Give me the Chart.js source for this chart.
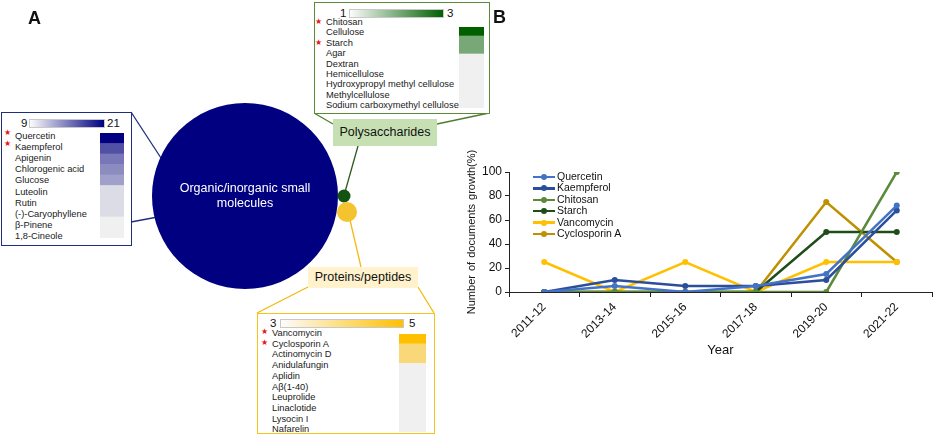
<!DOCTYPE html>
<html>
<head>
<meta charset="utf-8">
<script src="https://cdn.jsdelivr.net/npm/chart.js@4.4.0/dist/chart.umd.min.js"></script>
<style>
  body { margin: 0; width: 936px; height: 436px; position: relative; overflow: hidden; background: #fff;
         font-family: Arial, "Liberation Sans", sans-serif; color: #111; }
  .abs { position: absolute; }
  .panel { position: absolute; font-weight: bold; font-size: 18px; line-height: 18px; z-index: 5; }
  .box { position: absolute; background: #fff; box-sizing: border-box; }
  .lbl { position: absolute; font-size: 9.3px; line-height: 10px; white-space: nowrap; color: #1a1a1a; }
  .star { position: absolute; color: #e8151b; font-size: 8px; line-height: 8px; }
  .bar { position: absolute; box-sizing: border-box; border: 1px solid #c8c8c8; }
  .num { position: absolute; font-size: 11.5px; line-height: 12px; }
  .tag { position: absolute; box-sizing: border-box; font-size: 12.5px; text-align: center; }
  .leg { position: absolute; font-size: 10.5px; line-height: 11px; white-space: nowrap; }
  .ytitle { position: absolute; left: 371px; top: 226px; width: 200px; text-align: center; font-size: 11px;
            line-height: 12px; word-spacing: 1px; transform: rotate(-90deg); transform-origin: 100px 6px; white-space: nowrap; }
  canvas { position: absolute; }
</style>
</head>
<body>

<div class="panel" style="left:28px;top:9px;">A</div>
<div class="panel" style="left:493px;top:8px;">B</div>

<!-- connector lines of panel A -->
<svg class="abs" style="left:0;top:0;" width="936" height="436">
  <g stroke-width="1.3" fill="none">
    <line x1="131" y1="112" x2="161" y2="158" stroke="#1f2f7a"/>
    <line x1="131" y1="222" x2="163" y2="216" stroke="#1f2f7a"/>
    <line x1="314" y1="113" x2="333" y2="124" stroke="#4f7d2e"/>
    <line x1="437" y1="124" x2="489" y2="113" stroke="#4f7d2e"/>
    <line x1="358" y1="146" x2="345" y2="192" stroke="#2f5a1f"/>
    <line x1="350" y1="220" x2="361" y2="267" stroke="#f2b90f"/>
    <line x1="308" y1="287" x2="257" y2="313" stroke="#f2b90f"/>
    <line x1="418" y1="287" x2="434" y2="313" stroke="#f2b90f"/>
  </g>
</svg>

<canvas id="bubbles" width="460" height="436" style="left:0;top:0;"></canvas>
<div class="abs" style="left:152px;top:181px;width:186px;text-align:center;color:#fff;font-size:12.5px;line-height:15px;">Organic/inorganic small<br>molecules</div>

<div class="tag" style="left:333px;top:119px;width:104px;height:27px;line-height:27px;background:#c6e0b4;">Polysaccharides</div>
<div class="tag" style="left:308px;top:267px;width:110px;height:21px;line-height:21px;background:#fff2cc;">Proteins/peptides</div>

<div id="boxes"></div>

<canvas id="myChart" width="476" height="202" style="left:460px;top:160px;"></canvas>
<div class="ytitle">Number of documents growth(%)</div>
<div id="legendB"></div>

<script>
// ---- panel A data
var smallMolecules = ['Quercetin', 'Kaempferol', 'Apigenin', 'Chlorogenic acid', 'Glucose', 'Luteolin', 'Rutin', '(-)-Caryophyllene', 'β-Pinene', '1,8-Cineole'];
var smallMoleculeCounts = [21, 17, 15, 14, 13, 10, 10, 10, 9, 9];
var smallMoleculeRange = [9, 21];

var polysaccharides = ['Chitosan', 'Cellulose', 'Starch', 'Agar', 'Dextran', 'Hemicellulose', 'Hydroxypropyl methyl cellulose', 'Methylcellulose', 'Sodium carboxymethyl cellulose'];
var polysaccharideCounts = [3, 2, 2, 1, 1, 1, 1, 1, 1];
var polysaccharideRange = [1, 3];

var peptides = ['Vancomycin', 'Cyclosporin A', 'Actinomycin D', 'Anidulafungin', 'Aplidin', 'Aβ(1-40)', 'Leuprolide', 'Linaclotide', 'Lysocin I', 'Nafarelin'];
var peptideCounts = [5, 4, 4, 3, 3, 3, 3, 3, 3, 3];
var peptideRange = [3, 5];

var starred = ['Quercetin', 'Kaempferol', 'Chitosan', 'Starch', 'Vancomycin', 'Cyclosporin A'];

// ---- panel B data
var years = ['2011-12', '2013-14', '2015-16', '2017-18', '2019-20', '2021-22'];
var quercetin = [0, 5, 0, 5, 15, 72];
var kaempferol = [0, 10, 5, 5, 10, 68];
var chitosan = [0, 0, 0, 0, 0, 100];
var starch = [0, 0, 0, 0, 50, 50];
var vancomycin = [25, 0, 25, 0, 25, 25];
var cyclosporinA = [0, 0, 0, 0, 75, 25];
var yTicks = [0, 20, 40, 60, 80, 100];

// layout of the bubbles (pixels of panel A)
var bubbleLayout = [
  {x: 245, y: 196, r: 93, color: '#000080'},
  {x: 344, y: 196, r: 6.5, color: '#145214'},
  {x: 347, y: 212, r: 10, color: '#f4c430'}
];

// layout of the three boxes
var boxLayout = [
  {names: smallMolecules, values: smallMoleculeCounts, range: smallMoleculeRange,
   low: [240, 240, 240], high: [0, 0, 128], border: '#1f2f7a',
   left: 1, top: 112, width: 131, height: 134,
   labelX: 15, rowY: 131, rowStep: 11.1, starDy: -2,
   heat: {left: 100, top: 133, width: 24, height: 105},
   bar: {left: 29, top: 119, width: 76, height: 9}, lowX: 21, highX: 107, numY: 117},
  {names: polysaccharides, values: polysaccharideCounts, range: polysaccharideRange,
   low: [240, 240, 240], high: [0, 96, 0], border: '#5a8a3a',
   left: 314, top: 2, width: 176, height: 112,
   labelX: 326, rowY: 17, rowStep: 10.4, starDy: 1,
   heat: {left: 459, top: 27, width: 25, height: 81},
   bar: {left: 349, top: 9, width: 95, height: 9}, lowX: 340, highX: 447, numY: 7},
  {names: peptides, values: peptideCounts, range: peptideRange,
   low: [240, 240, 240], high: [255, 192, 0], border: '#f7c318',
   left: 257, top: 313, width: 178, height: 121,
   labelX: 272, rowY: 328, rowStep: 10.7, starDy: 0,
   heat: {left: 399, top: 334, width: 27, height: 98},
   bar: {left: 280, top: 319, width: 124, height: 9}, lowX: 270, highX: 409, numY: 317}
];

//Funzione per il colore della cella
function cellColor (v, range, low, high) {
  var t = (v - range[0]) / (range[1] - range[0]);
  var c = [];
  for (var i = 0; i < 3; i++) {
    c.push(Math.round(low[i] + (high[i] - low[i]) * t));
  }
  return 'rgb(' + c.join(',') + ')';
}

//Funzione per creare i riquadri con la heatmap
function drawBoxes () {
  var cont = document.getElementById('boxes');
  for (var b = 0; b < boxLayout.length; b++) {
    var L = boxLayout[b];
    var box = document.createElement('div');
    box.className = 'box';
    box.style.cssText = 'left:' + L.left + 'px;top:' + L.top + 'px;width:' + L.width + 'px;height:' + L.height + 'px;border:1.5px solid ' + L.border + ';';
    cont.appendChild(box);

    var bar = document.createElement('div');
    bar.className = 'bar';
    bar.style.cssText = 'left:' + L.bar.left + 'px;top:' + L.bar.top + 'px;width:' + L.bar.width + 'px;height:' + L.bar.height + 'px;' +
      'background:linear-gradient(to right,' + cellColor(L.range[0], L.range, [252, 252, 252], L.high) + ',' + cellColor(L.range[1], L.range, L.low, L.high) + ');';
    cont.appendChild(bar);

    var n1 = document.createElement('div');
    n1.className = 'num';
    n1.style.cssText = 'left:' + L.lowX + 'px;top:' + L.numY + 'px;';
    n1.textContent = L.range[0];
    cont.appendChild(n1);
    var n2 = document.createElement('div');
    n2.className = 'num';
    n2.style.cssText = 'left:' + L.highX + 'px;top:' + L.numY + 'px;';
    n2.textContent = L.range[1];
    cont.appendChild(n2);

    for (var i = 0; i < L.names.length; i++) {
      var y = L.rowY + i * L.rowStep;
      var lb = document.createElement('div');
      lb.className = 'lbl';
      lb.style.cssText = 'left:' + L.labelX + 'px;top:' + y + 'px;';
      lb.textContent = L.names[i];
      cont.appendChild(lb);
      if (starred.indexOf(L.names[i]) >= 0) {
        var st = document.createElement('div');
        st.className = 'star';
        st.style.cssText = 'left:' + (L.labelX - 11) + 'px;top:' + (y + L.starDy) + 'px;';
        st.textContent = '★';
        cont.appendChild(st);
      }
    }

    var cv = document.createElement('canvas');
    cv.width = L.heat.width;
    cv.height = L.heat.height;
    cv.style.left = L.heat.left + 'px';
    cv.style.top = L.heat.top + 'px';
    cont.appendChild(cv);
    heatColumn(cv, L);
  }
}

//Funzione per la colonna heatmap
function heatColumn (cv, L) {
  var colors = [];
  var ones = [];
  for (var i = 0; i < L.values.length; i++) {
    colors.push(cellColor(L.values[i], L.range, L.low, L.high));
    ones.push(1);
  }
  new Chart(cv.getContext('2d'), {
    type: 'bar',
    data: {
      labels: L.names,
      datasets: [{
        data: ones,
        backgroundColor: colors,
        borderWidth: 0,
        barPercentage: 1,
        categoryPercentage: 1
      }]
    },
    options: {
      indexAxis: 'y',
      responsive: false,
      animation: false,
      events: [],
      layout: {padding: 0, autoPadding: false},
      plugins: {legend: {display: false}, tooltip: {enabled: false}},
      scales: {
        x: {display: false, min: 0, max: 1},
        y: {display: false}
      }
    }
  });
}

//Funzione per i cerchi
function bubbleChart () {
  var pts = [];
  var cols = [];
  for (var i = 0; i < bubbleLayout.length; i++) {
    pts.push({x: bubbleLayout[i].x, y: bubbleLayout[i].y, r: bubbleLayout[i].r});
    cols.push(bubbleLayout[i].color);
  }
  new Chart(document.getElementById('bubbles').getContext('2d'), {
    type: 'bubble',
    data: {datasets: [{data: pts, backgroundColor: cols, borderWidth: 0, hoverRadius: 0, clip: false}]},
    options: {
      responsive: false,
      animation: false,
      events: [],
      layout: {padding: 0, autoPadding: false},
      plugins: {legend: {display: false}, tooltip: {enabled: false}},
      scales: {
        x: {display: false, min: 0, max: 460},
        y: {display: false, min: 0, max: 436, reverse: true}
      }
    }
  });
}

//Funzione per creare il grafico
var seriesNames = ['Quercetin', 'Kaempferol', 'Chitosan', 'Starch', 'Vancomycin', 'Cyclosporin A'];
var seriesColors = ['#4472c4', '#2b4f9a', '#5a8a3a', '#1f4d1a', '#ffc000', '#bf9000'];

function lineChart () {
  var series = [quercetin, kaempferol, chitosan, starch, vancomycin, cyclosporinA];
  var datasets = [];
  for (var i = 0; i < series.length; i++) {
    datasets.push({
      label: seriesNames[i],
      data: series[i],
      borderColor: seriesColors[i],
      backgroundColor: seriesColors[i],
      borderWidth: 2.5,
      pointRadius: 3,
      pointBorderWidth: 0,
      tension: 0
    });
  }
  var ctx = document.getElementById('myChart').getContext('2d');
  new Chart(ctx, {
    type: 'line',
    data: {labels: years, datasets: datasets},
    options: {
      responsive: false,
      animation: false,
      events: [],
      layout: {padding: {top: 12, right: 2, left: 0, bottom: 0}},
      plugins: {legend: {display: false}, tooltip: {enabled: false}},
      scales: {
        x: {
          offset: true,
          grid: {offset: true, drawOnChartArea: false, tickLength: 5, color: '#222'},
          border: {color: '#222', width: 1},
          ticks: {minRotation: 45, maxRotation: 45, padding: 3, color: '#111', font: {family: 'Arial', size: 12}},
          title: {display: true, text: 'Year', color: '#111', font: {family: 'Arial', size: 13}},
          afterFit: function (scale) { scale.height = 70; }
        },
        y: {
          min: 0,
          max: 100,
          afterBuildTicks: function (scale) {
            scale.ticks = yTicks.map(function (v) { return {value: v}; });
          },
          grid: {drawOnChartArea: false, tickLength: 4, color: '#222'},
          border: {color: '#222', width: 1},
          ticks: {padding: 3, color: '#111', font: {family: 'Arial', size: 12}},
          afterFit: function (scale) { scale.width = 49; }
        }
      }
    }
  });
}

//Funzione per la legenda
function legendB () {
  var cont = document.getElementById('legendB');
  var html = '';
  for (var i = 0; i < seriesNames.length; i++) {
    var y = 177 + i * 11.4;
    html += '<div class="abs" style="left:533px;top:' + (y - 1.2) + 'px;width:22px;height:2.4px;background:' + seriesColors[i] + ';"></div>';
    html += '<div class="abs" style="left:541px;top:' + (y - 3) + 'px;width:6px;height:6px;border-radius:3px;background:' + seriesColors[i] + ';"></div>';
    html += '<div class="leg" style="left:557px;top:' + (y - 6) + 'px;">' + seriesNames[i] + '</div>';
  }
  cont.innerHTML = html;
}

function init () {
  bubbleChart();
  drawBoxes();
  lineChart();
  legendB();
}

init();
</script>
</body>
</html>
